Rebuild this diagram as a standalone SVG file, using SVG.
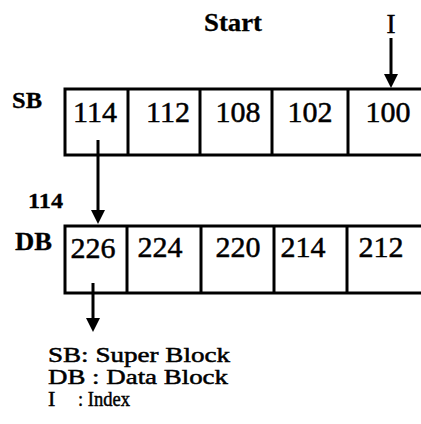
<svg xmlns="http://www.w3.org/2000/svg" width="421" height="424" viewBox="0 0 421 424">
<style>
.t{font-family:"Liberation Serif","Times New Roman","DejaVu Serif",serif;fill:#000;stroke:#000;stroke-width:0.5}
.b{font-weight:bold;stroke-width:0.3}
.n{font-size:30px;text-anchor:middle}
.box{fill:#fff;stroke:#000;stroke-width:3}
.ln{stroke:#000;stroke-width:3;fill:none}
.lg{font-size:22px}
</style>
<rect width="421" height="424" fill="#fff"/>
<text class="t b" x="233" y="31" font-size="26" text-anchor="middle" textLength="58" lengthAdjust="spacingAndGlyphs">Start</text>
<text class="t" x="391" y="33" font-size="27" text-anchor="middle">I</text>
<g id="sb">
<text class="t b" x="12" y="108" font-size="24" textLength="30" lengthAdjust="spacingAndGlyphs">SB</text>
<rect class="box" x="65" y="89" width="370" height="66"/>
<line class="ln" x1="128" y1="89" x2="128" y2="155"/>
<line class="ln" x1="200" y1="89" x2="200" y2="155"/>
<line class="ln" x1="272" y1="89" x2="272" y2="155"/>
<line class="ln" x1="348" y1="89" x2="348" y2="155"/>
<text class="t n" x="95" y="122">114</text>
<text class="t n" x="168" y="122">112</text>
<text class="t n" x="238" y="122">108</text>
<text class="t n" x="310" y="122">102</text>
<text class="t n" x="388" y="122">100</text>
</g>
<g id="db">
<text class="t b" x="15" y="250" font-size="25" textLength="37" lengthAdjust="spacingAndGlyphs">DB</text>
<rect class="box" x="65" y="226" width="370" height="67"/>
<line class="ln" x1="127" y1="226" x2="127" y2="293"/>
<line class="ln" x1="201" y1="226" x2="201" y2="293"/>
<line class="ln" x1="274" y1="226" x2="274" y2="293"/>
<line class="ln" x1="347" y1="226" x2="347" y2="293"/>
<text class="t n" x="93" y="258">226</text>
<text class="t n" x="160" y="257">224</text>
<text class="t n" x="238" y="257">220</text>
<text class="t n" x="303" y="257">214</text>
<text class="t n" x="381" y="257">212</text>
</g>
<g id="connectors">
<polyline class="ln" points="391,38 391,76"/>
<path d="M384,74 L398,74 L391,88 Z" fill="#000"/>
<polyline class="ln" points="98,140 98,212"/>
<path d="M91,210 L105,210 L98,224 Z" fill="#000"/>
<polyline class="ln" points="93,283 93,320"/>
<path d="M86,318 L100,318 L93,332 Z" fill="#000"/>
</g>
<text class="t b" x="28" y="208" font-size="20" textLength="35" lengthAdjust="spacingAndGlyphs">114</text>
<g id="legend">
<text class="t lg" x="48" y="362" textLength="182" lengthAdjust="spacingAndGlyphs">SB: Super Block</text>
<text class="t lg" x="48" y="384" textLength="180" lengthAdjust="spacingAndGlyphs">DB : Data Block</text>
<text class="t lg" x="48" y="406">I</text>
<text class="t lg" x="78" y="406" textLength="52" lengthAdjust="spacingAndGlyphs">: Index</text>
</g>
</svg>
